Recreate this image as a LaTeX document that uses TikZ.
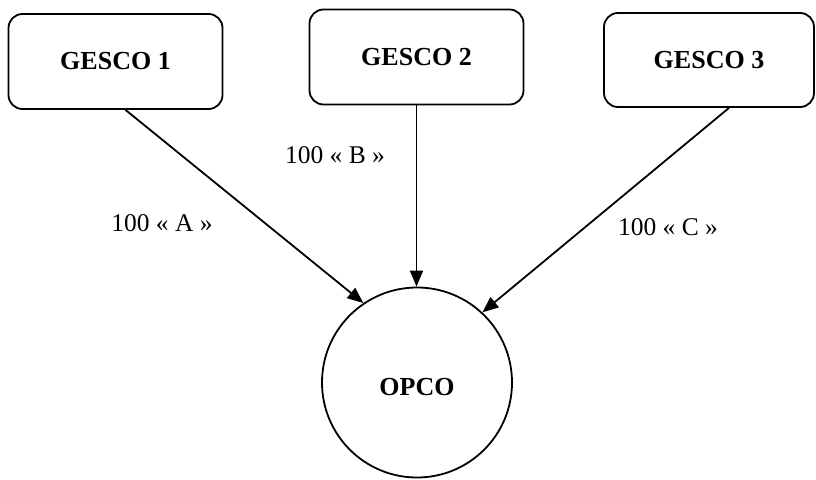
\documentclass[tikz,border=0pt]{standalone}
\usepackage{fontspec}
\setmainfont{Liberation Serif}
\usetikzlibrary{arrows.meta}
\begin{document}
\begin{tikzpicture}[x=1pt,y=-1pt,
  gesco/.style={draw, line width=1.8pt, rounded corners=14pt, inner sep=0pt,
    minimum width=214pt, minimum height=95pt,
    font=\fontsize{26}{30}\selectfont\bfseries},
  company/.style={draw, circle, line width=1.8pt, inner sep=0pt,
    minimum size=190pt},
  companyname/.style={font=\fontsize{26}{30}\selectfont\bfseries, inner sep=0pt},
  share/.style={font=\fontsize{25.5}{30}\selectfont, inner sep=0pt},
  flow/.style={line width=1.8pt, -{Triangle[length=16pt,width=13pt]}}]
  \useasboundingbox (0,0) rectangle (816,479);

  % holding boxes
  \node[gesco] (g1) at (115.5,61.5) {GESCO 1};
  \node[gesco] (g2) at (416.5,57) {GESCO 2};
  \node[gesco, minimum width=210pt, minimum height=94pt] (g3) at (709,60) {GESCO 3};

  % operating company
  \node[company] (op) at (417,382.5) {};
  \node[companyname] (opname) at ([yshift=-5pt]op.center) {OPCO};

  % share flows
  \draw[flow] ([xshift=10pt]g1.south) -- (op.124);
  \draw[flow] (g2.south) -- (g2.south |- op.north);
  \draw[flow] ([xshift=20pt]g3.south) -- (op.47);

  % share labels
  \node[share] (la) at (162,223) {100 « A »};
  \node[share] (lb) at (335,155) {100 « B »};
  \node[share] (lc) at (668,227) {100 « C »};
\end{tikzpicture}
\end{document}
